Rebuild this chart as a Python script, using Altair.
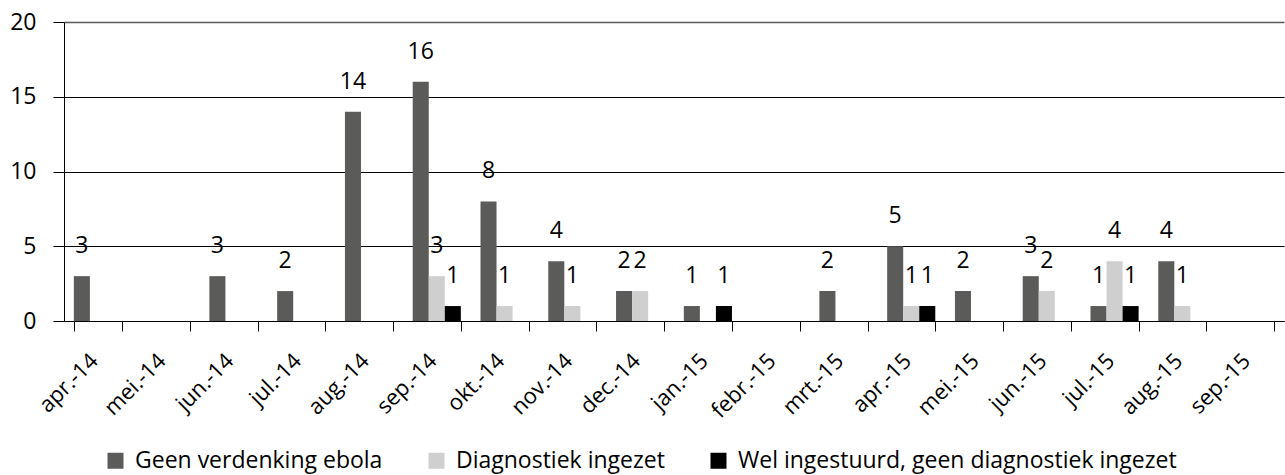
import altair as alt
import pandas as pd

months = ["apr.-14", "mei.-14", "jun.-14", "jul.-14", "aug.-14", "sep.-14",
          "okt.-14", "nov.-14", "dec.-14", "jan.-15", "febr.-15", "mrt.-15",
          "apr.-15", "mei.-15", "jun.-15", "jul.-15", "aug.-15", "sep.-15"]
series = ["Geen verdenking ebola", "Diagnostiek ingezet",
          "Wel ingestuurd, geen diagnostiek ingezet"]
geen = [3, 0, 3, 2, 14, 16, 8, 4, 2, 1, 0, 2, 5, 2, 3, 1, 4, 0]
diag = [0, 0, 0, 0, 0, 3, 1, 1, 2, 0, 0, 0, 1, 0, 2, 4, 1, 0]
wel = [0, 0, 0, 0, 0, 1, 0, 0, 0, 1, 0, 0, 1, 0, 0, 1, 0, 0]
colors = ["#5b5b5a", "#cfcfcf", "#000000"]

rows = []
for s, vals in zip(series, [geen, diag, wel]):
    for m, v in zip(months, vals):
        rows.append({"month": m, "series": s, "value": v})
df = pd.DataFrame(rows)

FONT = "Open Sans"

x = alt.X("month:N", sort=months, title=None,
          scale=alt.Scale(paddingInner=0.29, paddingOuter=0.145),
          axis=alt.Axis(labelAngle=-45, labelFontSize=22, labelColor="black",
                        tickBand="extent", tickSize=10, tickColor="black",
                        domainColor="black", labelPadding=26, labelOffset=-4,
                        labelAlign="right", labelBaseline="middle", labelFont=FONT))
xo = alt.XOffset("series:N", sort=series)
y = alt.Y("value:Q", title=None,
          scale=alt.Scale(domain=[0, 20], nice=False),
          axis=alt.Axis(values=[0, 5, 10, 15, 20], grid=True,
                        gridColor=alt.condition("datum.value == 20",
                                                alt.value("#5a5a5a"),
                                                alt.value("black")),
                        gridWidth=alt.condition("datum.value == 20",
                                                alt.value(1.6), alt.value(1)),
                        gridOpacity=1, tickSize=11, tickColor="black",
                        domainColor="black", labelFontSize=23, labelColor="black",
                        labelPadding=17, labelFont=FONT))
color = alt.Color("series:N", sort=series,
                  scale=alt.Scale(domain=series, range=colors),
                  legend=alt.Legend(title=None, orient="none", direction="horizontal",
                                    legendX=40, legendY=427, symbolType="square",
                                    symbolSize=256, symbolStrokeWidth=0,
                                    labelFontSize=23, labelFont=FONT,
                                    labelColor="black", columnPadding=42,
                                    labelOffset=8, labelLimit=700))

bars = alt.Chart(df).mark_bar().encode(x=x, xOffset=xo, y=y, color=color)
text = alt.Chart(df).transform_filter("datum.value > 0").mark_text(
    dy=-30, fontSize=23, font=FONT, color="black", baseline="middle"
).encode(x=x, xOffset=xo, y=y, text="value:Q")

chart = alt.layer(bars, text).properties(
    width=1220, height=299,
    autosize=alt.AutoSizeParams(type="none"),
    padding={"left": 64, "top": 22, "right": 1, "bottom": 154},
    background="white"
).configure_view(stroke=None)

chart.save("out.html", embed_options={"renderer": "svg", "actions": False})
